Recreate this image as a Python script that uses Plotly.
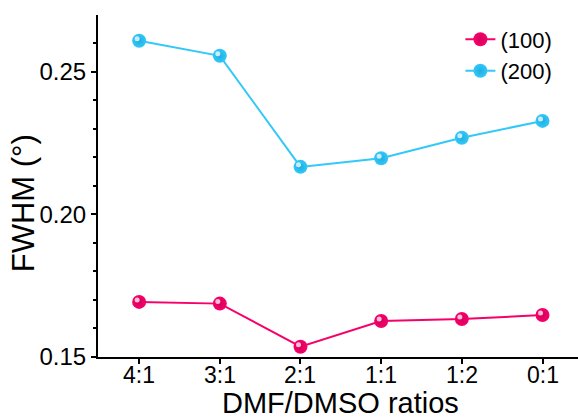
import plotly.graph_objects as go

categories = ["4:1", "3:1", "2:1", "1:1", "1:2", "0:1"]
fwhm_100 = [0.1693, 0.1687, 0.1536, 0.1626, 0.1633, 0.1647]
fwhm_200 = [0.2608, 0.2555, 0.2166, 0.2196, 0.2268, 0.2327]
series_names = ["(100)", "(200)"]
y_ticks = [0.15, 0.20, 0.25]
y_tick_labels = ["0.15", "0.20", "0.25"]
x_title = "DMF/DMSO ratios"
y_title = "FWHM (°)"

pink = "#F8006A"
pink_edge = "#D2005A"
cyan = "#33C8F8"
cyan_edge = "#1FAEE0"

xr = [-0.51, 5.44]
yr = [0.15, 0.2698]
# highlight axes shifted slightly so the glossy spot sits up-left of marker centre
dx = 2.0 * (xr[1] - xr[0]) / 480
dy = 2.0 * (yr[1] - yr[0]) / 342

font = "Liberation Sans, Arial, sans-serif"

fig = go.Figure()
xs = list(range(len(categories)))
for name, vals, col, edge in [(series_names[0], fwhm_100, pink, pink_edge),
                              (series_names[1], fwhm_200, cyan, cyan_edge)]:
    fig.add_trace(go.Scatter(
        x=xs, y=vals, name=name,
        mode="lines+markers",
        line=dict(color=col, width=2),
        marker=dict(size=14, color=col, line=dict(width=0),
                    gradient=dict(type="radial", color=edge)),
    ))
    fig.add_trace(go.Scatter(
        x=xs, y=vals, name=name, showlegend=False, hoverinfo="skip",
        xaxis="x2", yaxis="y2", mode="markers",
        marker=dict(size=5, color="rgba(255,255,255,0.75)", line=dict(width=0)),
    ))

annotations = [
    dict(text=x_title, xref="paper", yref="paper", x=0.505, y=-0.135,
         xanchor="center", yanchor="middle", showarrow=False,
         font=dict(size=29, family=font, color="black")),
    dict(text=y_title, xref="paper", yref="paper", x=-0.156, y=0.45,
         xanchor="center", yanchor="middle", showarrow=False, textangle=-90,
         font=dict(size=31, family=font, color="black")),
]
for i, lab in enumerate(categories):
    annotations.append(dict(text=lab, xref="x", yref="paper", x=i, y=-0.009,
                            xanchor="center", yanchor="top", showarrow=False,
                            font=dict(size=23, family=font, color="black")))

fig.update_layout(
    width=578, height=418,
    margin=dict(l=98, r=0, t=15, b=61),
    plot_bgcolor="white", paper_bgcolor="white",
    font=dict(family=font, color="black"),
    showlegend=True,
    legend=dict(x=0.755, y=0.99, xanchor="left", yanchor="top",
                font=dict(size=22), bgcolor="rgba(0,0,0,0)",
                tracegroupgap=0, itemwidth=30),
    xaxis=dict(
        range=xr,
        tickmode="array", tickvals=xs, showticklabels=False,
        showgrid=False, zeroline=False,
        showline=True, linecolor="black", linewidth=2,
        ticks="outside", ticklen=5, tickwidth=1.5, tickcolor="black",
    ),
    yaxis=dict(
        range=yr,
        tickmode="array", tickvals=y_ticks, ticktext=y_tick_labels,
        showgrid=False, zeroline=False,
        showline=True, linecolor="black", linewidth=2,
        ticks="outside", ticklen=5, tickwidth=1.5, tickcolor="black",
        tickfont=dict(size=24),
        minor=dict(dtick=0.01, ticks="outside", ticklen=3, tickwidth=1.5, tickcolor="black", showgrid=False),
    ),
    xaxis2=dict(range=[xr[0] + dx, xr[1] + dx], overlaying="x", visible=False),
    yaxis2=dict(range=[yr[0] - dy, yr[1] - dy], overlaying="y", visible=False),
    annotations=annotations,
)

fig.write_html("out.html")
